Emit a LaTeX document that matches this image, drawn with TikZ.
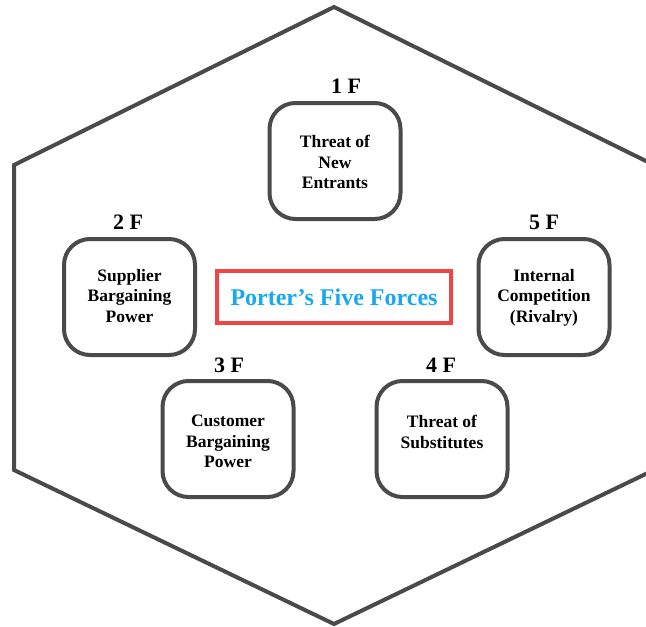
\documentclass[tikz,border=0pt]{standalone}
\usepackage{fontspec}
\setmainfont{Liberation Serif}
\definecolor{edge}{HTML}{4A4A4A}
\definecolor{titleblue}{HTML}{18A8F2}
\definecolor{titlered}{HTML}{F04545}
\begin{document}
\begin{tikzpicture}[x=1pt,y=-1pt,
  forcebox/.style={draw=edge, line width=4pt, rounded corners=26pt, minimum width=131pt, minimum height=116pt, inner sep=0pt},
  forcetext/.style={anchor=north, align=center, font=\bfseries\fontsize{17.5}{20.5}\selectfont, inner sep=0pt},
  forcelabel/.style={font=\bfseries\fontsize{22}{25}\selectfont, inner sep=0pt}]
\useasboundingbox (0,0) rectangle (646,627);
% hexagon
\draw[edge, line width=4pt, line join=miter] (334,7) -- (654,165) -- (654,470) -- (334,624) -- (14,470) -- (14,165) -- cycle;
% boxes
\node[forcebox] (b1) at (335,161) {};
\node[forcebox] (b2) at (129.5,297) {};
\node[forcebox] (b5) at (544,297) {};
\node[forcebox] (b3) at (228,439) {};
\node[forcebox] (b4) at (442,439) {};
% texts
\node[forcetext] (t1) at ([yshift=-34pt]b1.north) {Threat of\\New\\Entrants};
\node[forcetext] (t2) at ([yshift=-32pt]b2.north) {Supplier\\Bargaining\\Power};
\node[forcetext] (t5) at ([yshift=-32pt]b5.north) {Internal\\Competition\\(Rivalry)};
\node[forcetext] (t3) at ([yshift=-36pt]b3.north) {Customer\\Bargaining\\Power};
\node[forcetext] (t4) at ([yshift=-36pt]b4.north) {Threat of\\Substitutes};
% labels
\node[forcelabel] (l1) at (346,86) {1 F};
\node[forcelabel] (l2) at (128,222) {2 F};
\node[forcelabel] (l5) at (544,222) {5 F};
\node[forcelabel] (l3) at (229,365) {3 F};
\node[forcelabel] (l4) at (441,365) {4 F};
% title
\node[draw=titlered, line width=4pt, minimum width=234pt, minimum height=52pt, inner sep=0pt,
  text=titleblue, font=\bfseries\fontsize{24}{28}\selectfont] (title) at (334,297) {Porter’s Five Forces};
\end{tikzpicture}
\end{document}
